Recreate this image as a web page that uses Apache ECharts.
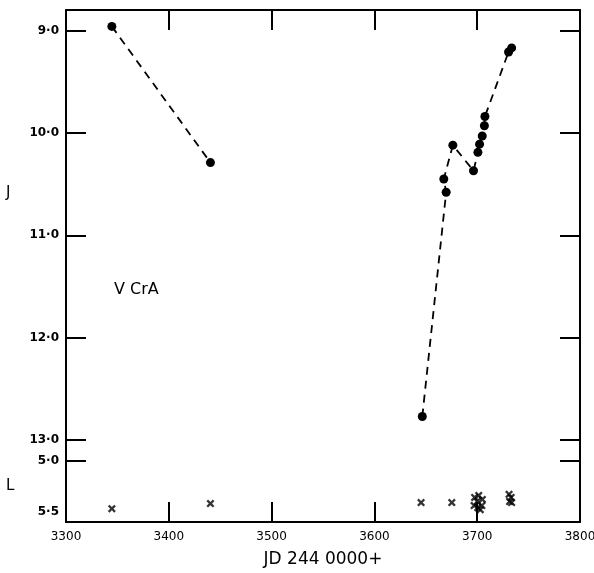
<!DOCTYPE html>
<html>
<head>
<meta charset="utf-8">
<script src="https://cdn.jsdelivr.net/npm/echarts@6/dist/echarts.min.js"></script>
<style>
html, body { margin: 0; padding: 0; background: #fff; }
#main { width: 594px; height: 573px; }
</style>
</head>
<body>
<div id="main"></div>
<script>
// J magnitudes (filled circles), two observing runs
var jEarly = [[3344.6, 8.96], [3440.5, 10.29]];
var jOutburst = [
    [3646.6, 12.77], [3669.8, 10.58], [3667.5, 10.45], [3676.3, 10.12],
    [3696.4, 10.37], [3700.7, 10.19], [3702.3, 10.11], [3704.9, 10.03],
    [3707.0, 9.93], [3707.5, 9.84], [3730.5, 9.21], [3733.5, 9.17]
];
// L magnitudes (crosses)
var lPoints = [
    [3344.6, 5.47], [3440.5, 5.42], [3645.4, 5.41], [3675.3, 5.41],
    [3697.5, 5.36], [3701.5, 5.34], [3705.0, 5.38], [3697.0, 5.44],
    [3700.5, 5.46], [3704.5, 5.44], [3700.0, 5.40], [3703.0, 5.48],
    [3731.0, 5.33], [3733.0, 5.36], [3731.5, 5.40], [3733.5, 5.41]
];
var xTicks = [3300, 3400, 3500, 3600, 3700, 3800];
var jTicks = [9, 10, 11, 12, 13];
var lTicks = [5.0];
var lLabels = [5.0, 5.5];

var crossPath = 'path://M0,2L2,0L5,3L8,0L10,2L7,5L10,8L8,10L5,7L2,10L0,8L3,5Z';
var fmt = function (v) { return v.toFixed(1).replace('.', '\u00b7'); };
var font = 'DejaVu Sans';
var lineStyle = { color: '#000', width: 2 };
var tickStyle = { show: true, inside: true, length: 20, lineStyle: { color: '#000', width: 2 } };

var myChart = echarts.init(document.getElementById('main'));
var option = {
    backgroundColor: '#fff',
    animation: false,
    grid: { left: 66, top: 10, right: 14, bottom: 51, containLabel: false, outerBoundsMode: 'none' },
    xAxis: [{
        type: 'value', position: 'bottom', min: 3300, max: 3800,
        axisLine: { lineStyle: lineStyle },
        axisTick: Object.assign({ customValues: xTicks }, tickStyle),
        axisLabel: { customValues: xTicks, formatter: function (v) { return String(v); }, color: '#000', fontSize: 12, fontFamily: font, margin: 9 },
        splitLine: { show: false },
        name: 'JD 244 0000+', nameLocation: 'middle', nameGap: 29,
        nameTextStyle: { color: '#000', fontSize: 17, fontFamily: font }
    }, {
        type: 'value', position: 'top', min: 3300, max: 3800,
        axisLine: { lineStyle: lineStyle },
        axisTick: Object.assign({ customValues: xTicks }, tickStyle),
        axisLabel: { show: false },
        splitLine: { show: false }
    }],
    yAxis: [{
        type: 'value', position: 'left', inverse: true, min: 8.8, max: 13.8,
        axisLine: { show: true, lineStyle: lineStyle },
        axisTick: Object.assign({ customValues: jTicks }, tickStyle),
        axisLabel: { customValues: jTicks, formatter: fmt, color: '#000', fontSize: 12, fontWeight: 'bold', fontFamily: font, margin: 7 },
        splitLine: { show: false }
    }, {
        type: 'value', position: 'left', inverse: true, min: 0.6, max: 5.6,
        axisLine: { show: false },
        axisTick: Object.assign({ customValues: lTicks }, tickStyle),
        axisLabel: { customValues: lLabels, formatter: fmt, color: '#000', fontSize: 12, fontWeight: 'bold', fontFamily: font, margin: 7 },
        splitLine: { show: false }
    }, {
        type: 'value', position: 'right', inverse: true, min: 8.8, max: 13.8,
        axisLine: { show: true, lineStyle: lineStyle },
        axisTick: Object.assign({ customValues: jTicks }, tickStyle),
        axisLabel: { show: false },
        splitLine: { show: false }
    }, {
        type: 'value', position: 'right', inverse: true, min: 0.6, max: 5.6,
        axisLine: { show: false },
        axisTick: Object.assign({ customValues: lTicks }, tickStyle),
        axisLabel: { show: false },
        splitLine: { show: false }
    }],
    graphic: [
        { type: 'text', left: 6, top: 186, style: { text: 'J', fill: '#000', fontSize: 15, fontFamily: font } },
        { type: 'text', left: 6, top: 479, style: { text: 'L', fill: '#000', fontSize: 15, fontFamily: font } },
        { type: 'text', left: 114, top: 282, style: { text: 'V CrA', fill: '#000', fontSize: 16, fontFamily: font } }
    ],
    series: [{
        type: 'line', xAxisIndex: 0, yAxisIndex: 0, data: jEarly,
        symbol: 'circle', symbolSize: 9, itemStyle: { color: '#000' },
        lineStyle: { color: '#000', width: 1.8, type: [8, 6] }
    }, {
        type: 'line', xAxisIndex: 0, yAxisIndex: 0, data: jOutburst,
        symbol: 'circle', symbolSize: 9, itemStyle: { color: '#000' },
        lineStyle: { color: '#000', width: 1.8, type: [8, 6] }
    }, {
        type: 'scatter', xAxisIndex: 0, yAxisIndex: 1, data: lPoints,
        symbol: crossPath, symbolSize: 8, itemStyle: { color: '#000' }
    }]
};
myChart.setOption(option);
</script>
</body>
</html>
